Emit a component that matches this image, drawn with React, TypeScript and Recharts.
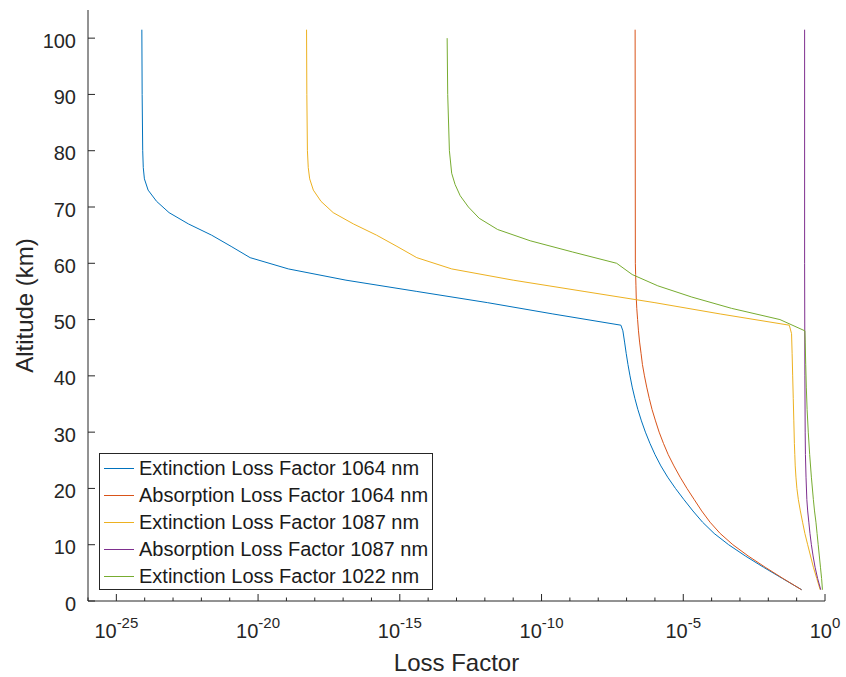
import React from 'react';
import { LineChart, Line, XAxis, YAxis, Legend } from 'recharts';

const FONT = '"Liberation Sans", Arial, Helvetica, sans-serif';
const AXIS = '#262626';

// x ticks: every decade from 1e-26 to 1e0; labelled every 5 decades
const xTickExponents = [-26, -25, -24, -23, -22, -21, -20, -19, -18, -17, -16, -15, -14, -13, -12, -11, -10, -9, -8, -7, -6, -5, -4, -3, -2, -1, 0];
const xLabelExponents = [-25, -20, -15, -10, -5, 0];
const yTicks = [0, 10, 20, 30, 40, 50, 60, 70, 80, 90, 100];

const seriesNames = [
  'Extinction Loss Factor 1064 nm',
  'Absorption Loss Factor 1064 nm',
  'Extinction Loss Factor 1087 nm',
  'Absorption Loss Factor 1087 nm',
  'Extinction Loss Factor 1022 nm',
];
const seriesColors = ['#0072BD', '#D95319', '#EDB120', '#7E2F8E', '#77AC30'];

// Extinction 1064 nm
const altExt1064 = [2, 4, 6, 8, 10, 12, 14, 16, 18, 20, 22, 24, 26, 28, 30, 32, 34, 36, 38, 40, 42, 44, 46, 48, 49, 51, 53, 55, 57, 59, 61, 63, 65, 67, 69, 71, 73, 75, 77, 80, 90, 101.5];
const ext1064 = [1.51e-1, 3.16e-2, 6.76e-3, 1.55e-3, 3.98e-4, 1.23e-4, 4.79e-5, 2.19e-5, 1.06e-5, 5.31e-6, 2.82e-6, 1.62e-6, 1.01e-6, 6.68e-7, 4.62e-7, 3.34e-7, 2.51e-7, 1.96e-7, 1.58e-7, 1.32e-7, 1.12e-7, 9.70e-8, 8.51e-8, 7.41e-8, 6.31e-8, 2.51e-10, 1.26e-12, 3.98e-15, 1.26e-17, 1.17e-19, 5.25e-21, 1.12e-21, 2.29e-22, 3.47e-23, 7.24e-24, 2.63e-24, 1.32e-24, 9.77e-25, 8.91e-25, 8.51e-25, 8.13e-25, 7.94e-25];

// Absorption 1064 nm
const altAbs1064 = [2, 4, 6, 8, 10, 12, 14, 16, 18, 20, 22, 24, 26, 28, 30, 32, 34, 36, 38, 40, 42, 44, 46, 48, 50, 52, 54, 56, 58, 60, 101.5];
const abs1064 = [1.48e-1, 3.31e-2, 7.76e-3, 1.95e-3, 5.62e-4, 2.00e-4, 8.81e-5, 4.47e-5, 2.45e-5, 1.35e-5, 7.76e-6, 4.68e-6, 2.95e-6, 2.00e-6, 1.41e-6, 1.05e-6, 7.94e-7, 6.31e-7, 5.13e-7, 4.27e-7, 3.63e-7, 3.24e-7, 2.88e-7, 2.63e-7, 2.45e-7, 2.29e-7, 2.19e-7, 2.14e-7, 2.09e-7, 2.04e-7, 2.00e-7];

// Extinction 1087 nm
const altExt1087 = [2, 4, 6, 8, 10, 12, 14, 16, 18, 20, 22, 24, 26, 28, 32, 36, 40, 44, 47.5, 49, 51, 53, 55, 57, 59, 61, 63, 65, 67, 69, 71, 73, 75, 77, 80, 90, 101.5];
const ext1087 = [6.76e-1, 5.13e-1, 3.89e-1, 3.09e-1, 2.45e-1, 1.95e-1, 1.62e-1, 1.35e-1, 1.15e-1, 1.02e-1, 9.44e-2, 8.91e-2, 8.61e-2, 8.32e-2, 7.94e-2, 7.59e-2, 7.24e-2, 6.92e-2, 6.61e-2, 5.50e-2, 2.00e-4, 1.00e-6, 3.16e-9, 1.00e-11, 6.76e-14, 3.98e-15, 7.94e-16, 1.51e-16, 2.29e-17, 4.47e-18, 1.66e-18, 8.91e-19, 6.61e-19, 5.89e-19, 5.50e-19, 5.25e-19, 5.13e-19];

// Absorption 1087 nm
const altAbs1087 = [2, 4, 6, 8, 10, 12, 14, 16, 18, 22, 26, 30, 40, 60, 101.5];
const abs1087 = [7.08e-1, 5.50e-1, 4.47e-1, 3.80e-1, 3.31e-1, 2.95e-1, 2.69e-1, 2.45e-1, 2.29e-1, 2.14e-1, 2.04e-1, 2.00e-1, 1.95e-1, 1.91e-1, 1.91e-1];

// Extinction 1022 nm
const altExt1022 = [2, 4, 6, 8, 10, 12, 14, 16, 18, 22, 26, 30, 34, 38, 42, 46, 48, 50, 52, 54, 56, 58, 60, 62, 64, 66, 68, 70, 72, 74, 76, 80, 90, 100];
const ext1022 = [8.13e-1, 7.59e-1, 6.92e-1, 6.31e-1, 5.75e-1, 5.25e-1, 4.79e-1, 4.27e-1, 3.89e-1, 3.31e-1, 2.88e-1, 2.57e-1, 2.34e-1, 2.19e-1, 2.09e-1, 2.00e-1, 1.95e-1, 2.57e-2, 5.01e-4, 2.00e-5, 1.26e-6, 1.58e-7, 4.47e-8, 1.26e-9, 3.98e-11, 2.82e-12, 6.31e-13, 2.63e-13, 1.35e-13, 8.91e-14, 6.76e-14, 5.62e-14, 4.90e-14, 4.68e-14];

const toPoints = (alts: number[], vals: number[]) => alts.map((alt, i) => ({ alt, x: vals[i] }));

const seriesData = [
  toPoints(altExt1064, ext1064),
  toPoints(altAbs1064, abs1064),
  toPoints(altExt1087, ext1087),
  toPoints(altAbs1087, abs1087),
  toPoints(altExt1022, ext1022),
];

const xTicks = xTickExponents.map((e) => Math.pow(10, e));

const expOf = (v: number) => Math.round(Math.log10(v));

const BottomTick = (props: any) => {
  const { x, y, payload } = props;
  const e = expOf(payload.value);
  const major = xLabelExponents.includes(e);
  return (
    <g>
      <line x1={x} x2={x} y1={y} y2={y - (major ? 7 : 3.5)} stroke={AXIS} strokeWidth={1} />
      {major && (
        <text x={x} y={y + 37} textAnchor="middle" fill={AXIS} fontFamily={FONT}>
          <tspan fontSize={20}>10</tspan>
          <tspan fontSize={15} dy={-10}>{String(e)}</tspan>
        </text>
      )}
    </g>
  );
};

const TopTick = (props: any) => {
  const { x, y, payload } = props;
  const e = expOf(payload.value);
  const major = xLabelExponents.includes(e);
  return <line x1={x} x2={x} y1={y} y2={y + (major ? 7 : 3.5)} stroke={AXIS} strokeWidth={1} />;
};

const LeftTick = (props: any) => {
  const { x, y, payload } = props;
  return (
    <g>
      <line x1={x} x2={x + 7} y1={y} y2={y} stroke={AXIS} strokeWidth={1} />
      <text x={x - 12} y={y + 9.5} textAnchor="end" fill={AXIS} fontFamily={FONT} fontSize={20}>
        {payload.value}
      </text>
    </g>
  );
};

const RightTick = (props: any) => {
  const { x, y } = props;
  return <line x1={x} x2={x - 7} y1={y} y2={y} stroke={AXIS} strokeWidth={1} />;
};

const YLabel = (props: any) => {
  const { viewBox } = props;
  const cx = 33;
  const cy = viewBox.y + viewBox.height / 2;
  return (
    <text x={cx} y={cy} transform={`rotate(-90, ${cx}, ${cy})`} textAnchor="middle" fill={AXIS} fontFamily={FONT} fontSize={24}>
      Altitude (km)
    </text>
  );
};

const XLabel = (props: any) => {
  const { viewBox } = props;
  const cx = viewBox.x + viewBox.width / 2;
  return (
    <text x={cx} y={viewBox.y + 70} textAnchor="middle" fill={AXIS} fontFamily={FONT} fontSize={24}>
      Loss Factor
    </text>
  );
};

const LegendBox = () => {
  return (
    <div
      style={{
        width: 334,
        height: 137,
        boxSizing: 'border-box',
        border: `1px solid ${AXIS}`,
        background: '#fff',
        paddingTop: 1,
        fontFamily: FONT,
        fontSize: 20,
        color: '#1a1a1a',
      }}
    >
      {seriesNames.map((name, i) => (
        <div key={name} style={{ height: 27, display: 'flex', alignItems: 'center', whiteSpace: 'nowrap' }}>
          <span style={{ display: 'inline-block', width: 30, height: 0, borderTop: `1px solid ${seriesColors[i]}`, marginLeft: 4, marginRight: 5 }} />
          <span style={{ lineHeight: '27px' }}>{name}</span>
        </div>
      ))}
    </div>
  );
};

export default function App() {
  return (
    <div style={{ position: 'absolute', left: 0, top: 0, width: 846, height: 677, background: '#fff' }}>
      <LineChart width={846} height={677} margin={{ top: 10, right: 21, bottom: 0, left: 0 }}>
        <XAxis
          xAxisId="bottom"
          type="number"
          dataKey="x"
          scale="log"
          domain={[1e-26, 1]}
          allowDataOverflow
          ticks={xTicks}
          interval={0}
          tickSize={0}
          tickMargin={0}
          tickLine={false}
          height={76}
          axisLine={{ stroke: AXIS, strokeWidth: 1 }}
          tick={<BottomTick />}
          label={<XLabel />}
        />
        <XAxis
          xAxisId="top"
          orientation="top"
          type="number"
          dataKey="x"
          scale="log"
          domain={[1e-26, 1]}
          allowDataOverflow
          ticks={xTicks}
          interval={0}
          tickSize={0}
          tickMargin={0}
          tickLine={false}
          height={0}
          axisLine={{ stroke: AXIS, strokeWidth: 1 }}
          tick={<TopTick />}
        />
        <YAxis
          yAxisId="left"
          type="number"
          dataKey="alt"
          domain={[0, 105]}
          allowDataOverflow
          ticks={yTicks}
          interval={0}
          tickSize={0}
          tickMargin={0}
          tickLine={false}
          width={88}
          axisLine={{ stroke: AXIS, strokeWidth: 1 }}
          tick={<LeftTick />}
          label={<YLabel />}
        />
        <YAxis
          yAxisId="right"
          orientation="right"
          type="number"
          domain={[0, 105]}
          allowDataOverflow
          ticks={yTicks}
          interval={0}
          tickSize={0}
          tickMargin={0}
          tickLine={false}
          width={0}
          axisLine={{ stroke: AXIS, strokeWidth: 1 }}
          tick={<RightTick />}
        />
        {seriesData.map((d, i) => (
          <Line
            key={seriesNames[i]}
            xAxisId="bottom"
            yAxisId="left"
            data={d}
            dataKey="alt"
            name={seriesNames[i]}
            stroke={seriesColors[i]}
            strokeWidth={1}
            dot={false}
            activeDot={false}
            isAnimationActive={false}
            type="linear"
            legendType="line"
          />
        ))}
        <Legend
          layout="vertical"
          align="center"
          verticalAlign="middle"
          content={<LegendBox />}
          wrapperStyle={{ position: 'absolute', left: 99, top: 453, width: 334, height: 137 }}
        />
      </LineChart>
    </div>
  );
}
